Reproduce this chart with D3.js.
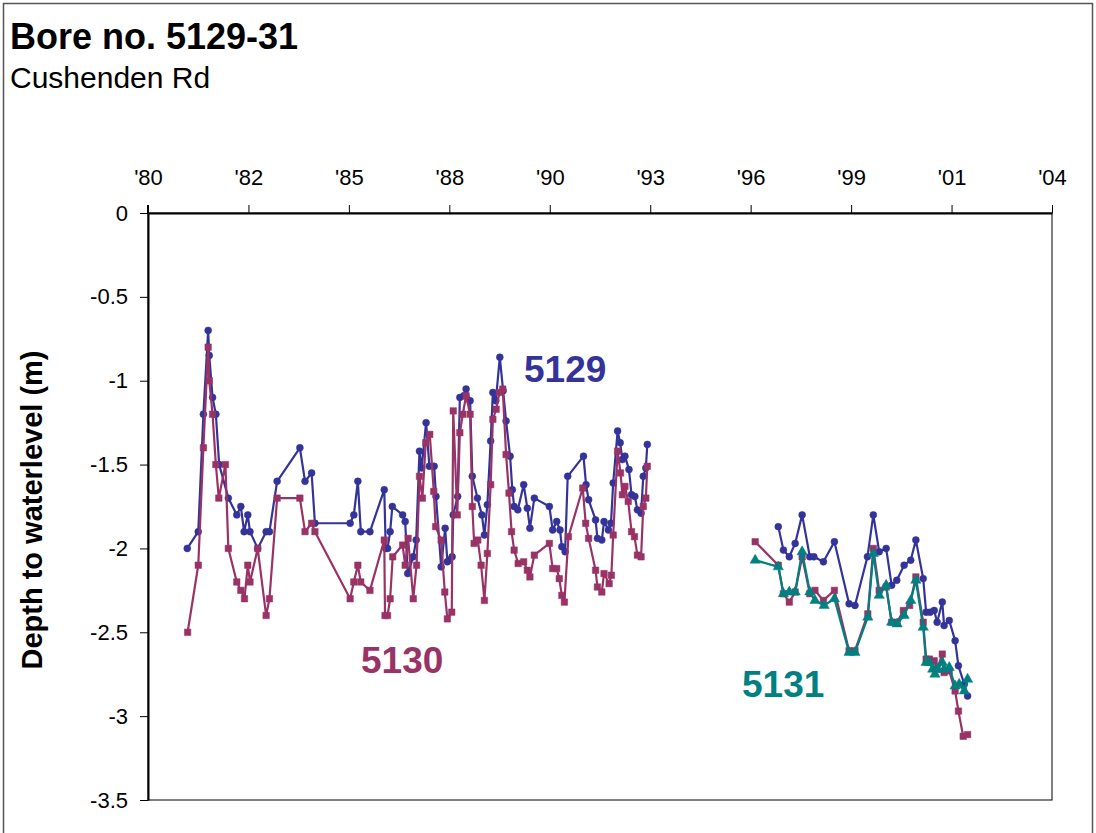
<!DOCTYPE html>
<html>
<head>
<meta charset="utf-8">
<script src="https://cdn.jsdelivr.net/npm/d3@7"></script>
<style>
  html, body { margin: 0; padding: 0; background: #fff; }
  svg { display: block; font-family: "Liberation Sans", Arial, sans-serif; }
</style>
</head>
<body>
<svg id="chart" width="1096" height="833"></svg>
<script>
// ---- Data (decimal year, depth to waterlevel in m); null = gap in record ----
const xTickLabels = ["'80", "'82", "'85", "'88", "'90", "'93", "'96", "'99", "'01", "'04"];
const yTickValues = [0, -0.5, -1, -1.5, -2, -2.5, -3, -3.5];

const bore5129 = [
  [1981.07,-2.00],[1981.37,-1.90],[1981.51,-1.20],[1981.64,-0.70],[1981.67,-0.85],[1981.76,-1.10],
  [1981.85,-1.20],[1981.94,-1.50],[1982.19,-1.70],[1982.42,-1.80],[1982.53,-1.75],[1982.62,-1.90],
  [1982.72,-1.80],[1982.78,-1.90],[1982.99,-2.00],[1983.22,-1.90],[1983.31,-1.90],[1983.52,-1.60],
  [1984.14,-1.40],[1984.28,-1.60],[1984.46,-1.55],[1984.55,-1.85],[1985.51,-1.85],[1985.61,-1.80],
  [1985.72,-1.60],[1985.80,-1.90],[1986.05,-1.90],[1986.44,-1.65],[1986.48,-2.00],[1986.53,-2.00],
  [1986.60,-1.90],[1986.66,-1.75],[1986.94,-1.80],[1987.01,-1.84],[1987.08,-2.15],[1987.23,-2.05],
  [1987.31,-1.95],[1987.40,-1.42],[1987.46,-1.52],[1987.58,-1.25],[1987.67,-1.51],[1987.80,-1.51],
  [1987.85,-1.69],[1987.99,-2.11],[1988.10,-1.88],[1988.16,-2.08],[1988.21,-2.07],[1988.29,-2.05],
  [1988.32,-1.80],[1988.44,-1.69],[1988.50,-1.10],[1988.61,-1.09],[1988.67,-1.05],[1988.78,-1.12],
  [1988.84,-1.57],[1988.98,-1.70],[1989.10,-1.80],[1989.17,-1.92],[1989.25,-1.74],[1989.34,-1.36],
  [1989.40,-1.07],[1989.48,-1.12],[1989.59,-0.86],[1989.68,-1.06],[1989.76,-1.24],[1989.87,-1.45],
  [1989.93,-1.65],[1989.98,-1.75],[1990.08,-1.77],[1990.24,-1.62],[1990.34,-1.76],[1990.41,-1.88],
  [1990.53,-1.70],[1990.94,-1.75],[1991.03,-1.89],[1991.14,-1.84],[1991.23,-1.89],[1991.28,-1.99],
  [1991.37,-2.02],[1991.44,-1.57],[1991.87,-1.45],[1991.94,-1.62],[1992.01,-1.71],[1992.20,-1.83],
  [1992.25,-1.94],[1992.37,-1.95],[1992.43,-1.84],[1992.55,-1.89],[1992.62,-1.85],[1992.68,-1.61],
  [1992.80,-1.30],[1992.87,-1.37],[1992.93,-1.47],[1993.00,-1.45],[1993.11,-1.53],[1993.18,-1.68],
  [1993.27,-1.69],[1993.34,-1.77],[1993.44,-1.79],[1993.50,-1.57],[1993.57,-1.52],[1993.61,-1.38],
  null,
  [1997.18,-1.87],[1997.32,-2.01],[1997.48,-2.05],[1997.64,-1.97],[1997.83,-1.80],[1998.04,-2.05],
  [1998.15,-2.05],[1998.41,-2.08],[1998.71,-1.96],[1999.11,-2.33],[1999.27,-2.34],[1999.61,-2.05],
  [1999.77,-1.80],[1999.93,-2.02],[2000.12,-2.00],[2000.27,-2.22],[2000.41,-2.19],[2000.61,-2.10],
  [2000.79,-2.07],[2000.93,-1.95],[2001.13,-2.18],[2001.21,-2.38],[2001.32,-2.38],[2001.43,-2.37],
  [2001.51,-2.44],[2001.65,-2.32],[2001.70,-2.46],[2001.84,-2.43],[2002.00,-2.55],[2002.09,-2.70],
  [2002.25,-2.81],[2002.34,-2.88]
];

const bore5130 = [
  [1981.08,-2.50],[1981.37,-2.10],[1981.51,-1.40],[1981.64,-0.80],[1981.67,-1.00],[1981.76,-1.20],
  [1981.85,-1.50],[1981.93,-1.70],[1982.11,-1.50],[1982.19,-2.00],[1982.42,-2.20],[1982.53,-2.25],
  [1982.63,-2.30],[1982.72,-2.10],[1982.78,-2.20],[1982.99,-2.00],[1983.22,-2.40],[1983.31,-2.30],
  [1983.52,-1.70],[1984.14,-1.70],[1984.28,-1.90],[1984.46,-1.85],[1984.55,-1.90],[1985.51,-2.30],
  [1985.61,-2.20],[1985.72,-2.10],[1985.80,-2.20],[1986.05,-2.25],[1986.44,-1.95],[1986.46,-2.40],
  [1986.53,-2.40],[1986.60,-2.30],[1986.67,-2.05],[1986.94,-1.98],[1987.01,-2.10],[1987.09,-1.94],
  [1987.23,-2.30],[1987.32,-2.10],[1987.40,-1.57],[1987.48,-1.70],[1987.57,-1.37],[1987.68,-1.32],
  [1987.79,-1.66],[1987.84,-1.87],[1987.99,-1.95],[1988.09,-2.26],[1988.16,-2.42],[1988.28,-2.38],
  [1988.32,-1.18],[1988.43,-1.80],[1988.50,-1.31],[1988.58,-1.20],[1988.67,-1.09],[1988.78,-1.20],
  [1988.84,-1.75],[1988.89,-1.97],[1988.99,-1.95],[1989.08,-2.10],[1989.17,-2.31],[1989.25,-2.03],
  [1989.34,-1.62],[1989.40,-1.23],[1989.49,-1.17],[1989.58,-1.07],[1989.67,-1.05],[1989.76,-1.44],
  [1989.84,-1.67],[1989.91,-1.90],[1989.98,-2.01],[1990.09,-2.09],[1990.24,-2.08],[1990.34,-2.13],
  [1990.41,-2.17],[1990.53,-2.04],[1990.94,-1.97],[1991.03,-2.12],[1991.14,-2.12],[1991.21,-2.18],
  [1991.28,-2.28],[1991.35,-2.32],[1991.46,-1.93],[1991.85,-1.64],[1991.93,-1.85],[1992.01,-1.94],
  [1992.20,-2.13],[1992.25,-2.23],[1992.37,-2.26],[1992.43,-2.15],[1992.57,-2.21],[1992.63,-2.16],
  [1992.68,-1.92],[1992.80,-1.42],[1992.88,-1.55],[1992.93,-1.68],[1993.00,-1.63],[1993.09,-1.72],
  [1993.18,-1.90],[1993.26,-1.93],[1993.34,-2.04],[1993.44,-2.05],[1993.50,-1.75],[1993.57,-1.70],
  [1993.61,-1.51],
  null,
  [1996.55,-1.96],[1997.18,-2.10],[1997.32,-2.27],[1997.48,-2.32],[1997.64,-2.26],[1997.83,-2.05],
  [1998.04,-2.27],[1998.18,-2.25],[1998.41,-2.31],[1998.71,-2.25],[1999.11,-2.61],[1999.27,-2.61],
  [1999.62,-2.39],[1999.77,-2.00],[1999.93,-2.25],[2000.12,-2.23],[2000.27,-2.44],[2000.42,-2.44],
  [2000.59,-2.37],[2000.76,-2.34],[2000.93,-2.17],[2001.13,-2.44],[2001.21,-2.66],[2001.30,-2.66],
  [2001.43,-2.67],[2001.51,-2.72],[2001.65,-2.63],[2001.70,-2.74],[2001.84,-2.73],[2002.00,-2.85],
  [2002.09,-2.97],[2002.22,-3.12],[2002.34,-3.11]
];

const bore5131 = [
  [1996.55,-2.07],[1997.18,-2.11],[1997.32,-2.27],[1997.48,-2.26],[1997.64,-2.26],[1997.83,-2.02],
  [1998.04,-2.26],[1998.18,-2.31],[1998.43,-2.34],[1998.71,-2.30],[1999.11,-2.62],[1999.27,-2.62],
  [1999.62,-2.41],[1999.77,-2.03],[1999.93,-2.28],[2000.12,-2.22],[2000.27,-2.44],[2000.42,-2.45],
  [2000.61,-2.40],[2000.79,-2.31],[2000.93,-2.19],[2001.13,-2.47],[2001.21,-2.68],[2001.30,-2.68],
  [2001.39,-2.72],[2001.45,-2.75],[2001.51,-2.72],[2001.65,-2.68],[2001.70,-2.72],[2001.84,-2.71],
  [2002.00,-2.82],[2002.11,-2.81],[2002.25,-2.85],[2002.34,-2.78]
];

// ---- Layout ----
const W = 1096, H = 833;
const plot = { left: 148, top: 213, right: 1052, bottom: 800 };
const startYear = 1980;
const tickStepYears = 1000 / 365.25;       // axis major unit: 1000 days
const endYear = startYear + 9 * tickStepYears;
const xTickValues = xTickLabels.map((_, i) => startYear + i * tickStepYears);

const colors = { b5129: "#333399", b5130: "#993366", b5131: "#008080" };

const svg = d3.select("#chart");
svg.append("rect").attr("width", W).attr("height", H).attr("fill", "#fff");
// outer chart border
svg.append("rect").attr("x", 3.5).attr("y", 3.5).attr("width", 1089).attr("height", 860)
  .attr("fill", "none").attr("stroke", "#555").attr("stroke-width", 1.5);

// titles
svg.append("text").attr("x", 10).attr("y", 49).attr("font-size", 36).attr("font-weight", "bold")
  .attr("fill", "#000").text("Bore no. 5129-31");
svg.append("text").attr("x", 10).attr("y", 88).attr("font-size", 30)
  .attr("fill", "#000").text("Cushenden Rd");

const x = d3.scaleLinear().domain([startYear, endYear]).range([plot.left, plot.right]);
const y = d3.scaleLinear().domain([0, -3.5]).range([plot.top, plot.bottom]);

// plot frame (right & bottom thin)
svg.append("rect").attr("x", plot.left).attr("y", plot.top)
  .attr("width", plot.right - plot.left).attr("height", plot.bottom - plot.top)
  .attr("fill", "none").attr("stroke", "#000").attr("stroke-width", 1);

// axes
const xAxis = d3.axisTop(x).tickValues(xTickValues).tickFormat((d, i) => xTickLabels[i])
  .tickSize(8).tickSizeOuter(0).tickPadding(20);
const gx = svg.append("g").attr("transform", `translate(0,${plot.top})`).call(xAxis);
gx.select(".domain").attr("stroke", "#000").attr("stroke-width", 2);
gx.selectAll(".tick line").attr("stroke", "#000").attr("stroke-width", 1);
gx.selectAll(".tick text").attr("font-size", 22).attr("font-family", "Liberation Sans, Arial, sans-serif").attr("fill", "#000");

const yAxis = d3.axisLeft(y).tickValues(yTickValues).tickFormat(d => String(d))
  .tickSize(8).tickSizeOuter(0).tickPadding(12);
const gy = svg.append("g").attr("transform", `translate(${plot.left},0)`).call(yAxis);
gy.select(".domain").attr("stroke", "#000").attr("stroke-width", 2);
gy.selectAll(".tick line").attr("stroke", "#000").attr("stroke-width", 1);
gy.selectAll(".tick text").attr("font-size", 22).attr("font-family", "Liberation Sans, Arial, sans-serif").attr("fill", "#000");

// '80 tick crosses the axis corner
svg.append("line").attr("x1", plot.left).attr("x2", plot.left).attr("y1", plot.top - 8).attr("y2", plot.top)
  .attr("stroke", "#000").attr("stroke-width", 2);

// y-axis title
svg.append("text").attr("transform", `translate(42,510) rotate(-90)`)
  .attr("text-anchor", "middle").attr("font-size", 29).attr("font-weight", "bold")
  .attr("fill", "#000").text("Depth to waterlevel (m)");

// series
const line = d3.line().defined(d => d !== null).x(d => x(d[0])).y(d => y(d[1]));
function drawSeries(data, color, symbolType, size) {
  svg.append("path").datum(data).attr("d", line).attr("fill", "none")
    .attr("stroke", color).attr("stroke-width", 2.2).attr("stroke-linejoin", "round");
  const sym = d3.symbol().type(symbolType).size(size);
  svg.append("g").selectAll("path").data(data.filter(d => d !== null)).join("path")
    .attr("transform", d => `translate(${x(d[0])},${y(d[1])})`)
    .attr("d", sym).attr("fill", color).attr("stroke", color).attr("stroke-width", 0.5);
}
drawSeries(bore5129, colors.b5129, d3.symbolCircle, 38);
drawSeries(bore5130, colors.b5130, d3.symbolSquare, 42);
drawSeries(bore5131, colors.b5131, d3.symbolTriangle, 46);

// series labels
const seriesLabels = [
  { text: "5129", x: 524, y: 382, color: colors.b5129 },
  { text: "5130", x: 361, y: 673, color: colors.b5130 },
  { text: "5131", x: 742, y: 697, color: colors.b5131 }
];
svg.append("g").selectAll("text").data(seriesLabels).join("text")
  .attr("x", d => d.x).attr("y", d => d.y).attr("fill", d => d.color)
  .attr("font-size", 37).attr("font-weight", "bold").text(d => d.text);
</script>
</body>
</html>
